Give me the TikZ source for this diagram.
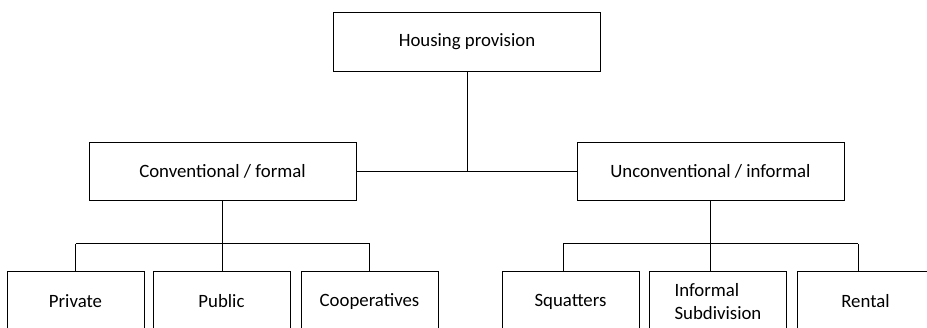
\documentclass[tikz,border=0pt]{standalone}
\usepackage{fontspec}
\setmainfont{Carlito}
\begin{document}
\begin{tikzpicture}[x=1pt, y=-1pt,
  box/.style={draw=black, line width=1pt, fill=white, inner sep=0pt,
    font=\fontsize{18.8}{23}\selectfont},
  bigbox/.style={box, minimum width=267pt, minimum height=58.5pt},
  leafbox/.style={box, minimum width=137pt, minimum height=59pt},
  link/.style={draw=black, line width=1pt}]
  \useasboundingbox (0,0) rectangle (927,328);
  \clip (0,0) rectangle (927,328);

  % root and the two main branches
  \node[bigbox] (root)   at (467,42)    {Housing provision};
  \node[bigbox] (conv)   at (222.5,171.5) {Conventional / formal};
  \node[bigbox] (unconv) at (710.5,171.5) {Unconventional / informal};

  % leaves of the formal branch
  \node[leafbox] (private) at (75.5,301.5)  {Private};
  \node[leafbox] (public)  at (221.5,301.5) {Public};
  \node[leafbox] (coop)    at (369.5,301.5) {Cooperatives};

  % leaves of the informal branch
  \node[leafbox] (squat)  at (570.5,301.5) {Squatters};
  \node[leafbox, align=left] (subdiv) at (718,301.5) {Informal\\Subdivision};
  \node[leafbox] (rental) at (865.5,301.5) {Rental};

  % root to the two branches
  \coordinate (mid) at (root.south |- conv.east);
  \draw[link] (conv.east) -- (unconv.west);
  \draw[link] (root.south) -- (mid);

  % formal branch bus
  \coordinate (lbus) at (0,244);
  \draw[link] (conv.south) -- (conv.south |- public.north);
  \draw[link] (private.north |- lbus) -- (coop.north |- lbus);
  \draw[link] (private.north |- lbus) -- (private.north);
  \draw[link] (coop.north |- lbus) -- (coop.north);

  % informal branch bus
  \coordinate (rbus) at (0,244);
  \coordinate (sqtop) at ([xshift=-7.5pt]squat.north);
  \coordinate (retop) at ([xshift=-7.5pt]rental.north);
  \draw[link] (unconv.south) -- (unconv.south |- subdiv.north);
  \draw[link] (sqtop |- rbus) -- (retop |- rbus);
  \draw[link] (sqtop |- rbus) -- (sqtop);
  \draw[link] (retop |- rbus) -- (retop);
\end{tikzpicture}
\end{document}
